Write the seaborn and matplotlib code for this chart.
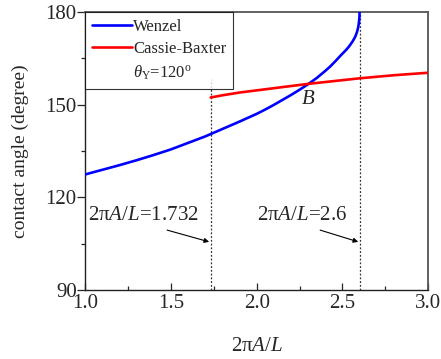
import matplotlib
matplotlib.use("Agg")
import matplotlib.pyplot as plt
import seaborn as sns
import pandas as pd
from matplotlib.lines import Line2D
from matplotlib.ticker import MultipleLocator

# Data
wenzel_x = [1.0, 1.1, 1.2, 1.3, 1.4, 1.5, 1.6, 1.7, 1.8, 1.9, 2.0, 2.05, 2.1, 2.15, 2.2,
            2.25, 2.3, 2.35, 2.4, 2.43, 2.46, 2.49, 2.52, 2.54, 2.56, 2.575, 2.585,
            2.592, 2.596, 2.599, 2.6]
wenzel_y = [127.4, 128.9, 130.4, 132.0, 133.7, 135.5, 137.6, 139.7, 142.1, 144.5, 147.0,
            148.4, 149.9, 151.5, 153.1, 154.8, 156.6, 158.6, 160.9, 162.4, 164.1, 165.9,
            167.6, 168.9, 170.5, 172.0, 173.5, 175.0, 176.5, 178.2, 180.0]
cb_x = [1.732, 1.8, 1.9, 2.0, 2.1, 2.2, 2.3, 2.4, 2.5, 2.6, 2.7, 2.8, 2.9, 3.0]
cb_y = [152.3, 153.0, 153.9, 154.6, 155.3, 156.0, 156.7, 157.3, 157.9, 158.5, 159.0,
        159.5, 159.9, 160.3]
vline_x = [1.732, 2.6]
vline_top = [158.3, 180.0]
annot_labels = ["2π$\\it{A/L}$=1.732", "2π$\\it{A/L}$=2.6"]
annot_text_xy = [(1.015, 114.0), (2.0, 114.0)]
annot_arrow_start = [(1.478, 109.4), (2.37, 109.4)]
annot_arrow_end = [(1.723, 105.6), (2.592, 105.6)]

sns.set_style("white")
plt.rcParams['font.family'] = ['Liberation Serif', 'DejaVu Serif']
plt.rcParams['mathtext.fontset'] = 'custom'
plt.rcParams['mathtext.rm'] = 'Liberation Serif'
plt.rcParams['mathtext.it'] = 'Liberation Serif:italic'

fig = plt.figure(figsize=(4.41, 3.59), dpi=100)
ax = fig.add_axes([0.193, 0.192, 0.778, 0.775])

dw = pd.DataFrame({"x": wenzel_x, "y": wenzel_y})
dc = pd.DataFrame({"x": cb_x, "y": cb_y})
sns.lineplot(data=dw, x="x", y="y", ax=ax, color="#0000ff", lw=1.9, sort=False, zorder=3)
sns.lineplot(data=dc, x="x", y="y", ax=ax, color="#ff0000", lw=1.9, sort=False, zorder=3)

for xv, yt in zip(vline_x, vline_top):
    ax.plot([xv, xv], [90, yt], color="#333333", lw=0.9, ls=(0, (1.5, 1.5)), zorder=2)

for lab, txy, s, e in zip(annot_labels, annot_text_xy, annot_arrow_start, annot_arrow_end):
    ax.text(txy[0], txy[1], lab, fontsize=15, ha="left", va="center")
    ax.annotate("", xy=e, xytext=s,
                arrowprops=dict(arrowstyle="-|>", color="black", lw=0.8,
                                mutation_scale=7, shrinkA=0, shrinkB=0))

ax.text(2.30, 151.8, "B", fontsize=15, style="italic", ha="center", va="center")

ax.set_xlim(1.0, 3.0)
ax.set_ylim(90, 180)
ax.xaxis.set_major_locator(MultipleLocator(0.5))
ax.xaxis.set_minor_locator(MultipleLocator(0.25))
ax.yaxis.set_major_locator(MultipleLocator(30))
ax.yaxis.set_minor_locator(MultipleLocator(15))
ax.tick_params(axis="x", which="major", direction="in", length=5, width=0.9, labelsize=15, pad=3, bottom=True)
ax.tick_params(axis="x", which="minor", direction="in", length=3, width=0.9, bottom=True)
ax.tick_params(axis="y", which="major", direction="out", length=5.5, width=0.9, labelsize=15, pad=0.5, left=True)
ax.tick_params(axis="y", which="minor", direction="out", length=3, width=0.9, left=True)
ax.set_xlabel("2π$\\it{A/L}$", fontsize=15, labelpad=17)
ax.set_ylabel("contact angle (degree)", fontsize=14, labelpad=12)

for s in ["left", "bottom"]:
    ax.spines[s].set_color("#222222")
    ax.spines[s].set_linewidth(1.0)
for s in ["top", "right"]:
    ax.spines[s].set_color("#555555")
    ax.spines[s].set_linewidth(1.3)

handles = [Line2D([], [], color="#0000ff", lw=1.9),
           Line2D([], [], color="#ff0000", lw=1.9),
           Line2D([], [], color="none")]
labels = ["Wenzel", "Cassie-Baxter", "$\\theta_{\\rm Y}$=120$^{\\rm o}$"]
leg = ax.legend(handles, labels, loc="upper left", bbox_to_anchor=(0.0, 1.0),
                fontsize=12, frameon=True, fancybox=False, handlelength=2.4,
                handletextpad=0.1, borderpad=0.4, labelspacing=0.4, borderaxespad=0)
leg.get_frame().set_edgecolor("black")
leg.get_frame().set_linewidth(0.8)

fig.savefig("out.png", dpi=100)
